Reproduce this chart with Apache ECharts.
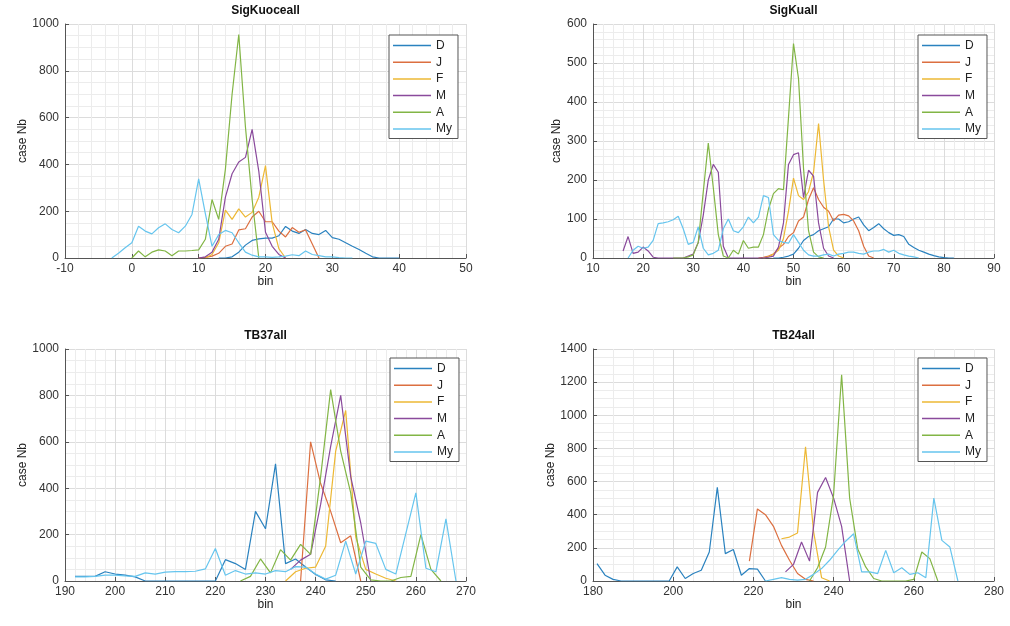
<!DOCTYPE html>
<html>
<head>
<meta charset="utf-8">
<script src="https://cdn.jsdelivr.net/npm/echarts@6/dist/echarts.min.js"></script>
<style>
  html, body { margin: 0; padding: 0; background: #ffffff; }
  #chart { width: 1010px; height: 626px; }
</style>
</head>
<body>
<div id="chart"></div>
<script>
// Histogram counts per month, as [bin, case count] pairs.
const seriesNames = ['D', 'J', 'F', 'M', 'A', 'My'];
const panelTitles = ['SigKuoceall', 'SigKuall', 'TB37all', 'TB24all'];

// SigKuoceall
const sigKuoceallD = [[13,0],[14,0],[15,5],[16,25],[17,55],[18,75],[19,82],[20,85],[21,85],[22,95],[23,135],[24,115],[25,105],[26,122],[27,105],[28,100],[29,118],[30,87],[31,80],[32,65],[33,50],[34,36],[35,20],[36,5],[37,0],[38,0],[39,0],[40,0]];
const sigKuoceallJ = [[10,0],[11,3],[12,8],[13,20],[14,50],[15,60],[16,120],[17,125],[18,175],[19,200],[20,155],[21,155],[22,115],[23,90],[24,130],[25,110],[26,120],[27,60],[28,0]];
const sigKuoceallF = [[11,0],[12,15],[13,65],[14,205],[15,165],[16,210],[17,175],[18,195],[19,260],[20,395],[21,150],[22,40],[23,0]];
const sigKuoceallM = [[10,0],[11,5],[12,25],[13,80],[14,260],[15,360],[16,410],[17,430],[18,550],[19,370],[20,110],[21,50],[22,15],[23,0]];
const sigKuoceallA = [[0,0],[1,30],[2,5],[3,25],[4,35],[5,30],[6,10],[7,30],[8,30],[9,32],[10,35],[11,80],[12,250],[13,165],[14,380],[15,700],[16,955],[17,560],[18,250],[19,0]];
const sigKuoceallMy = [[-3,0],[-2,20],[-1,44],[0,65],[1,136],[2,115],[3,103],[4,129],[5,146],[6,122],[7,108],[8,136],[9,186],[10,338],[11,190],[12,50],[13,100],[14,118],[15,108],[16,65],[17,25],[18,12],[19,5],[20,5],[21,3],[22,5],[23,8],[24,14],[25,10],[26,30],[27,15],[28,10],[29,5],[30,5],[31,2],[32,0],[33,0]];

// SigKuall
const sigKuallD = [[46,0],[47,0],[48,2],[49,5],[50,10],[51,25],[52,45],[53,55],[54,60],[55,70],[56,75],[57,80],[58,100],[59,100],[60,90],[61,93],[62,100],[63,105],[64,85],[65,70],[66,78],[67,88],[68,75],[69,65],[70,58],[71,60],[72,55],[73,35],[74,27],[75,20],[76,15],[77,10],[78,6],[79,3],[80,1],[81,0],[82,0]];
const sigKuallJ = [[43,0],[44,2],[45,5],[46,10],[47,25],[48,35],[49,55],[50,65],[51,95],[52,105],[53,150],[54,180],[55,150],[56,130],[57,120],[58,95],[59,110],[60,112],[61,108],[62,95],[63,70],[64,30],[65,5],[66,0]];
const sigKuallF = [[44,0],[45,3],[46,10],[47,20],[48,50],[49,120],[50,205],[51,160],[52,150],[53,170],[54,220],[55,345],[56,200],[57,80],[58,20],[59,5],[60,0]];
const sigKuallM = [[16,18],[17,55],[18,12],[19,15],[20,28],[21,18],[22,2],[23,0],[24,0],[25,0],[26,0],[27,0],[28,0],[29,5],[30,10],[31,40],[32,110],[33,200],[34,240],[35,220],[36,30],[37,0],[38,0],[39,0],[40,0],[41,0],[42,0],[43,0],[44,0],[45,2],[46,5],[47,28],[48,90],[49,240],[50,265],[51,270],[52,155],[53,225],[54,210],[55,90],[56,25],[57,5],[58,0]];
const sigKuallA = [[26,0],[27,0],[28,0],[29,3],[30,8],[31,40],[32,170],[33,295],[34,180],[35,60],[36,5],[37,0],[38,20],[39,10],[40,45],[41,25],[42,28],[43,28],[44,60],[45,125],[46,165],[47,178],[48,175],[49,360],[50,550],[51,460],[52,230],[53,70],[54,15],[55,3],[56,0]];
const sigKuallMy = [[17,0],[18,20],[19,30],[20,25],[21,28],[22,45],[23,88],[24,90],[25,93],[26,98],[27,107],[28,75],[29,35],[30,40],[31,80],[32,25],[33,8],[34,12],[35,20],[36,75],[37,100],[38,70],[39,65],[40,80],[41,105],[42,90],[43,105],[44,160],[45,155],[46,60],[47,45],[48,40],[49,38],[50,60],[51,40],[52,20],[53,8],[54,5],[55,5],[56,8],[57,10],[58,5],[59,10],[60,12],[61,15],[62,15],[63,12],[64,10],[65,15],[66,18],[67,18],[68,22],[69,15],[70,20],[71,12],[72,8],[73,5],[74,3],[75,0]];

// TB37all
const tb37allD = [[192,20],[194,20],[196,20],[198,40],[200,30],[202,25],[204,18],[206,0],[208,0],[210,0],[212,0],[214,0],[216,0],[218,0],[220,0],[222,92],[224,75],[226,50],[228,300],[230,225],[232,505],[234,75],[236,95],[238,60],[240,28],[242,5],[244,0]];
const tb37allJ = [[237,0],[239,600],[241,420],[243,300],[245,165],[247,195],[249,0]];
const tb37allF = [[234,0],[236,40],[238,55],[240,60],[242,150],[244,560],[246,735],[248,190],[250,50],[252,30],[254,12],[256,0]];
const tb37allM = [[235,50],[237,90],[239,115],[241,330],[243,580],[245,800],[247,450],[249,250],[251,0]];
const tb37allA = [[225,0],[227,20],[229,95],[231,35],[233,135],[235,90],[237,158],[239,115],[241,450],[243,825],[245,560],[247,380],[249,60],[251,5],[253,0],[255,0],[257,15],[259,20],[261,200],[263,50],[265,0]];
const tb37allMy = [[192,18],[194,18],[196,20],[198,25],[200,25],[202,22],[204,20],[206,35],[208,30],[210,38],[212,40],[214,40],[216,42],[218,52],[220,140],[222,25],[224,45],[226,30],[228,35],[230,30],[232,45],[234,40],[236,62],[238,60],[240,30],[242,8],[244,25],[246,172],[248,30],[250,172],[252,162],[254,50],[256,30],[258,205],[260,380],[262,55],[264,40],[266,268],[268,0]];

// TB24all
const tb24allD = [[181,105],[183,35],[185,10],[187,0],[189,0],[191,0],[193,0],[195,0],[197,0],[199,0],[201,85],[203,15],[205,45],[207,65],[209,175],[211,565],[213,165],[215,190],[217,35],[219,75],[221,72],[223,0]];
const tb24allJ = [[219,120],[221,435],[223,400],[225,330],[227,215],[229,125],[231,45],[233,10],[235,0]];
const tb24allF = [[227,255],[229,265],[231,290],[233,810],[235,300],[237,20],[239,0]];
const tb24allM = [[228,55],[230,100],[232,235],[234,120],[236,535],[238,625],[240,500],[242,330],[244,0]];
const tb24allA = [[234,0],[236,80],[238,205],[240,520],[242,1245],[244,500],[246,195],[248,85],[250,15],[252,0],[254,0],[256,0],[258,0],[260,10],[262,175],[264,135],[266,0]];
const tb24allMy = [[223,0],[225,10],[227,20],[229,10],[231,5],[233,10],[235,40],[237,75],[239,125],[241,185],[243,240],[245,285],[247,55],[249,55],[251,45],[253,185],[255,50],[257,80],[259,40],[261,50],[263,20],[265,500],[267,245],[269,205],[271,0]];

// Axis ranges and tick steps
const xRanges = [[-10, 50, 10], [10, 90, 10], [190, 270, 10], [180, 280, 20]];
const yRanges = [[0, 1000, 200], [0, 600, 100], [0, 1000, 200], [0, 1400, 200]];

const panelData = [
  [sigKuoceallD, sigKuoceallJ, sigKuoceallF, sigKuoceallM, sigKuoceallA, sigKuoceallMy],
  [sigKuallD, sigKuallJ, sigKuallF, sigKuallM, sigKuallA, sigKuallMy],
  [tb37allD, tb37allJ, tb37allF, tb37allM, tb37allA, tb37allMy],
  [tb24allD, tb24allJ, tb24allF, tb24allM, tb24allA, tb24allMy]
];

// Layout of the 2x2 subplot grid
const FONT = '"Liberation Sans", Arial, Helvetica, sans-serif';
const colors = ['#2a82bf', '#dc6f40', '#edb834', '#8a4a9c', '#82b545', '#66c5ee'];
const layout = [
  { grid: { left: 65, top: 24, width: 401, height: 234 }, xMinor: 5, yMinor: 4, yNameGap: 34, legend: { left: 389, top: 35 } },
  { grid: { left: 593, top: 24, width: 401, height: 234 }, xMinor: 5, yMinor: 5, yNameGap: 30, legend: { left: 918, top: 35 } },
  { grid: { left: 65, top: 349, width: 401, height: 232 }, xMinor: 5, yMinor: 4, yNameGap: 34, legend: { left: 390, top: 358 } },
  { grid: { left: 593, top: 349, width: 401, height: 232 }, xMinor: 4, yMinor: 4, yNameGap: 35, legend: { left: 918, top: 358 } }
];

const axisColor = '#555555';
const labelColor = '#333333';
const plainNumber = v => String(v);

const option = {
  animation: false,
  backgroundColor: '#ffffff',
  color: colors,
  textStyle: { fontFamily: FONT },
  title: [],
  legend: [],
  grid: [],
  xAxis: [],
  yAxis: [],
  series: []
};

layout.forEach((p, i) => {
  const g = p.grid;
  option.grid.push(Object.assign({ containLabel: false }, g));
  option.title.push({
    text: panelTitles[i],
    left: g.left + g.width / 2,
    top: g.top - 19,
    textAlign: 'center',
    padding: 0,
    textStyle: { fontFamily: FONT, fontSize: 12, fontWeight: 'bold', color: '#111111' }
  });
  option.legend.push({
    data: seriesNames,
    orient: 'vertical',
    left: p.legend.left,
    top: p.legend.top,
    icon: 'rect',
    itemWidth: 38,
    itemHeight: 1.5,
    itemGap: 3.7,
    padding: [4, 6, 3, 4],
    backgroundColor: '#ffffff',
    borderColor: '#555555',
    borderWidth: 1,
    borderRadius: 0,
    selectedMode: false,
    textStyle: { fontFamily: FONT, fontSize: 12, color: '#222222', lineHeight: 13 }
  });
  const [xmin, xmax, xstep] = xRanges[i];
  const [ymin, ymax, ystep] = yRanges[i];
  option.xAxis.push({
    type: 'value', gridIndex: i, min: xmin, max: xmax, interval: xstep,
    name: 'bin', nameLocation: 'middle', nameGap: 14,
    nameTextStyle: { fontFamily: FONT, fontSize: 12, color: '#222222' },
    axisLine: { show: true, onZero: false, lineStyle: { color: axisColor, width: 1 } },
    axisTick: { show: true, inside: true, length: 4, lineStyle: { color: axisColor } },
    axisLabel: { fontFamily: FONT, fontSize: 12, color: labelColor, margin: 5, showMinLabel: true, showMaxLabel: true, formatter: plainNumber },
    splitLine: { show: true, lineStyle: { color: '#dcdcdc', width: 1 } },
    minorTick: { show: false, splitNumber: p.xMinor },
    minorSplitLine: { show: true, lineStyle: { color: '#ececec', width: 1 } }
  });
  option.yAxis.push({
    type: 'value', gridIndex: i, min: ymin, max: ymax, interval: ystep,
    name: 'case Nb', nameLocation: 'middle', nameGap: p.yNameGap,
    nameTextStyle: { fontFamily: FONT, fontSize: 12, color: '#222222' },
    axisLine: { show: true, onZero: false, lineStyle: { color: axisColor, width: 1 } },
    axisTick: { show: true, inside: true, length: 4, lineStyle: { color: axisColor } },
    axisLabel: { fontFamily: FONT, fontSize: 12, color: labelColor, margin: 6, showMinLabel: true, showMaxLabel: true, formatter: plainNumber },
    splitLine: { show: true, lineStyle: { color: '#dcdcdc', width: 1 } },
    minorTick: { show: false, splitNumber: p.yMinor },
    minorSplitLine: { show: true, lineStyle: { color: '#ececec', width: 1 } }
  });
  panelData[i].forEach((data, k) => {
    option.series.push({
      name: seriesNames[k],
      type: 'line',
      xAxisIndex: i,
      yAxisIndex: i,
      data: data,
      symbol: 'none',
      showSymbol: false,
      clip: true,
      itemStyle: { color: colors[k] },
      lineStyle: { color: colors[k], width: 1.2 },
      emphasis: { disabled: true }
    });
  });
});

const chart = echarts.init(document.getElementById('chart'), null, { renderer: 'canvas' });
chart.setOption(option);
</script>
</body>
</html>
